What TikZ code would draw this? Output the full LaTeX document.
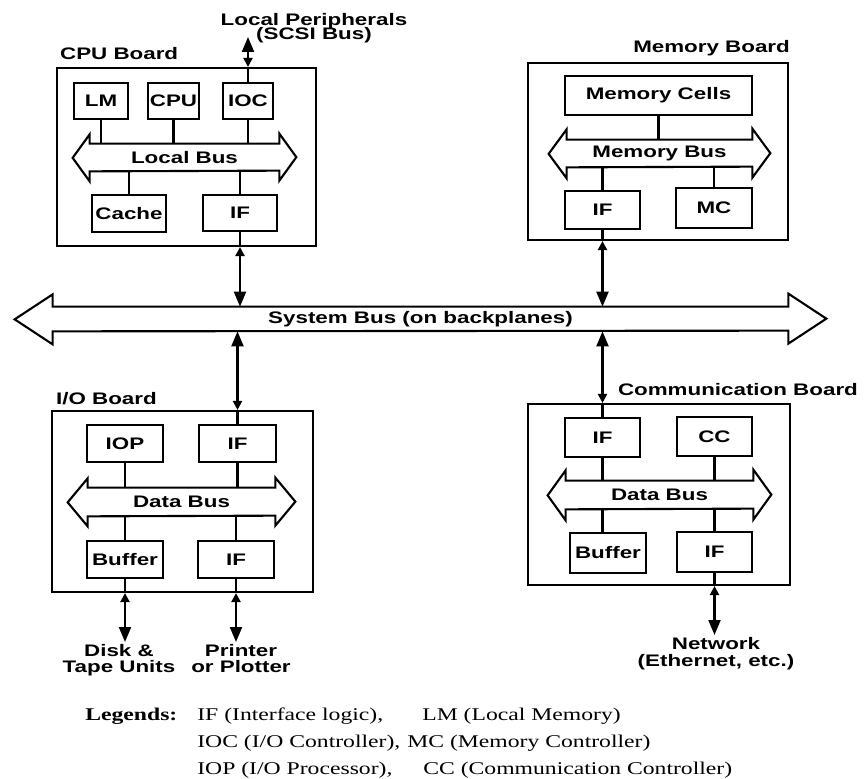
\documentclass[tikz,border=0pt]{standalone}
\usepackage{fontspec}
\newfontfamily\boxfont{Liberation Sans}[FakeStretch=1.34]
\newfontfamily\legfont{Liberation Serif}[FakeStretch=1.32]
\usetikzlibrary{arrows.meta}

\newcommand{\lblfont}{\boxfont\fontsize{9.5pt}{9pt}\selectfont\bfseries}
\newcommand{\drawbus}[4]{%
	\draw[busline] (#1.north west) -- (#1.north east) -- ++(0,-#2) -- ++(#3,#4) -- ++(-#3,#4) -- ++(0,-#2)
		-- (#1.south west) -- ++(0,#2) -- ++(-#3,-#4) -- ++(#3,-#4) -- cycle;}

\tikzset{
	board/.style 2 args={draw, line width=1.2pt, minimum width=#1*0.2mm, minimum height=#2*0.2mm, inner sep=0pt},
	blk/.style 2 args={draw, line width=1.2pt, minimum width=#1*0.2mm, minimum height=#2*0.2mm, inner sep=1pt, font=\lblfont},
	busbody/.style 2 args={minimum width=#1*0.2mm, minimum height=#2*0.2mm, inner sep=0pt, font=\lblfont},
	busline/.style={line width=1.2pt},
	lbl/.style={inner sep=1pt, font=\lblfont},
	leg/.style={inner sep=0pt, font=\legfont\fontsize{10.2pt}{12pt}\selectfont},
	link/.style={line width=1.2pt},
	io/.style={line width=1.2pt, {Triangle[length=1.8mm,width=1.8mm]}-{Triangle[length=3mm,width=2.4mm]}}
}

\begin{document}
\begin{tikzpicture}[x=0.2mm, y=-0.2mm]
	\useasboundingbox (0,0) rectangle (865,779);

	% boards
	\node[board={259}{178}] (cpub) at (186.5,157) {};
	\node[board={260}{177}] (memb) at (658,151.5) {};
	\node[board={261}{181}] (iob) at (182.5,501.5) {};
	\node[board={262}{181}] (comb) at (659,494.5) {};
	\node[lbl, anchor=base west] (cpulbl) at (58,60) {CPU Board};
	\node[lbl, anchor=base east] (memlbl) at (792,53) {Memory Board};
	\node[lbl, anchor=base west] (iolbl) at (54,404) {I/O Board};
	\node[lbl, anchor=base east] (comlbl) at (860,396) {Communication Board};

	% cpu board
	\node[blk={54}{36}] (lm) at (101,101) {LM};
	\node[blk={49}{36}] (cpu) at (173.5,101) {CPU};
	\node[blk={50}{36}] (ioc) at (248,101) {IOC};
	\node[busbody={189}{27}] (lbus) at (184.5,157.5) {Local Bus};
	\node[blk={74}{37}] (cache) at (129,213.5) {Cache};
	\node[blk={74}{36}] (cpuif) at (240,213) {IF};
	\drawbus{lbus}{10}{17}{23.5}

	% memory board
	\node[blk={187}{39}] (cells) at (658.5,95.5) {Memory Cells};
	\node[busbody={185}{27}] (mbus) at (659.5,153.5) {Memory Bus};
	\node[blk={75}{38}] (memif) at (602.5,210) {IF};
	\node[blk={76}{40}] (mc) at (714,208) {MC};
	\drawbus{mbus}{11}{18}{24.5}

	% i/o board
	\node[blk={76}{37}] (iop) at (125,443.5) {IOP};
	\node[blk={77}{37}] (ioif) at (237.5,443.5) {IF};
	\node[busbody={187}{28}] (iobus) at (181.5,502) {Data Bus};
	\node[blk={76}{37}] (iobuf) at (125,559.5) {Buffer};
	\node[blk={76}{37}] (ioif2) at (236,559.5) {IF};
	\drawbus{iobus}{10}{20}{24}

	% communication board
	\node[blk={75}{39}] (comif) at (602.5,437.5) {IF};
	\node[blk={75}{39}] (cc) at (714.5,436.5) {CC};
	\node[busbody={187}{28}] (cbus) at (659.5,495) {Data Bus};
	\node[blk={76}{40}] (cbuf) at (608,553) {Buffer};
	\node[blk={75}{40}] (comif2) at (714.5,552) {IF};
	\drawbus{cbus}{11}{18}{25}

	% system bus
	\node[busbody={735}{24}] (sysbus) at (420.5,319) {System Bus (on backplanes)};
	\drawbus{sysbus}{13}{38}{25}

	% outside ends
	\node[lbl, align=center] (periph) at (314,28) {Local Peripherals\\[-1pt](SCSI Bus)};
	\coordinate (periphend) at (248,37);
	\node[lbl, align=center, anchor=north] (disk) at (119,642) {Disk \&\\Tape Units};
	\node[lbl, align=center, anchor=north] (printer) at (241,642) {Printer\\or Plotter};
	\node[lbl, align=center, anchor=north] (network) at (716,635) {Network\\[1pt](Ethernet, etc.)};

	\draw[link] (lm.south) -- (lm.south |- lbus.north);
	\draw[link] (cpu.south) -- (cpu.south |- lbus.north);
	\draw[link] (ioc.south) -- (ioc.south |- lbus.north);
	\draw[link] (cache.north) -- (cache.north |- lbus.south);
	\draw[link] (cpuif.north) -- (cpuif.north |- lbus.south);
	\draw[link] (ioc.north) -- (ioc.north |- cpub.north);
	\draw[io] (ioc.north |- cpub.north) -- (periphend);
	\draw[link] (cpuif.south) -- (cpuif.south |- cpub.south);
	\draw[io] (cpuif.south |- cpub.south) -- (cpuif.south |- sysbus.north);

	\draw[link] (cells.south) -- (cells.south |- mbus.north);
	\draw[link] (memif.north) -- (memif.north |- mbus.south);
	\draw[link] (mc.north) -- (mc.north |- mbus.south);
	\draw[link] (memif.south) -- (memif.south |- memb.south);
	\draw[io] (memif.south |- memb.south) -- (memif.south |- sysbus.north);

	\draw[io] (ioif.north |- iob.north) -- (ioif.north |- sysbus.south);
	\draw[link] (ioif.north) -- (ioif.north |- iob.north);
	\draw[link] (iop.south) -- (iop.south |- iobus.north);
	\draw[link] (ioif.south) -- (ioif.south |- iobus.north);
	\draw[link] (iobuf.north) -- (iobuf.north |- iobus.south);
	\draw[link] (ioif2.north) -- (ioif2.north |- iobus.south);
	\draw[link] (iobuf.south) -- (iobuf.south |- iob.south);
	\draw[link] (ioif2.south) -- (ioif2.south |- iob.south);
	\draw[io] (iobuf.south |- iob.south) -- (iobuf.south |- disk.north);
	\draw[io] (ioif2.south |- iob.south) -- (ioif2.south |- printer.north);

	\draw[io] (comif.north |- comb.north) -- (comif.north |- sysbus.south);
	\draw[link] (comif.north) -- (comif.north |- comb.north);
	\draw[link] (comif.south) -- (comif.south |- cbus.north);
	\draw[link] (cc.south) -- (cc.south |- cbus.north);
	\draw[link] (cbus.south -| comif) -- (cbuf.north -| comif);
	\draw[link] (comif2.north) -- (comif2.north |- cbus.south);
	\draw[link] (comif2.south) -- (comif2.south |- comb.south);
	\draw[io] (comif2.south |- comb.south) -- (comif2.south |- network.north);

	% legends
	\node[leg, anchor=base west] (leghead) at (85,720) {\textbf{Legends:}};
	\node[leg, anchor=base west] (legif) at (197,720) {IF (Interface logic),};
	\node[leg, anchor=base west] (leglm) at (422,720) {LM (Local Memory)};
	\node[leg, anchor=base west] (legioc) at (197,747) {IOC (I/O Controller),};
	\node[leg, anchor=base west] (legmc) at (407,747) {MC (Memory Controller)};
	\node[leg, anchor=base west] (legiop) at (197,774) {IOP (I/O Processor),};
	\node[leg, anchor=base west] (legcc) at (423,774) {CC (Communication Controller)};
\end{tikzpicture}
\end{document}
